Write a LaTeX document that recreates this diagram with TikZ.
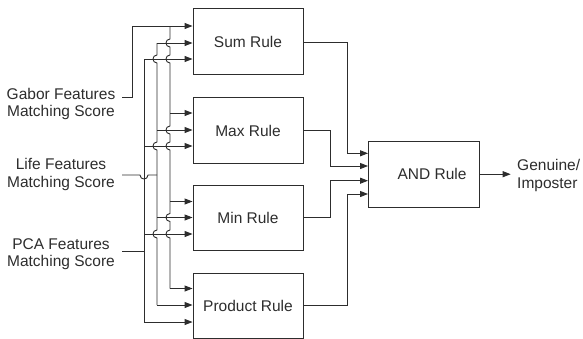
\documentclass[tikz,border=0pt]{standalone}
\usepackage{fontspec}
\setmainfont{Liberation Sans}
\usetikzlibrary{arrows.meta}
\definecolor{lc}{RGB}{45,45,45}
\begin{document}
\begin{tikzpicture}[x=1pt,y=-1pt,
  every node/.style={font=\fontsize{15.5}{17.5}\selectfont, text=lc},
  rulebox/.style={draw=lc, line width=0.9pt, minimum width=110pt, minimum height=65.5pt, inner sep=0pt},
  wire/.style={draw=lc, line width=0.9pt},
  arr/.style={wire, -{Triangle[length=8pt,width=6pt]}},
  lbl/.style={align=center, inner sep=0pt}]
\useasboundingbox (0,0) rectangle (583,338);
% boxes
\node[rulebox] (sum)  at (248,41.5)  {Sum Rule};
\node[rulebox] (max)  at (248,130.5) {Max Rule};
\node[rulebox] (min)  at (248,218)   {Min Rule};
\node[rulebox] (prod) at (248,306)   {Product Rule};
\node[rulebox, minimum width=111pt, minimum height=66pt] (and) at (424,174.2) {\hspace*{16pt}AND Rule};
% input labels
\node[lbl] (gab) at (61,104)   {Gabor Features\\Matching Score};
\node[lbl] (lif) at (61,174.5) {Life Features\\Matching Score};
\node[lbl] (pca) at (61,254)   {PCA Features\\Matching Score};
\node[lbl, align=left, anchor=west] (gen) at (517,175.5) {Genuine/\\Imposter};
% helper coordinates
\coordinate (G) at (170,0);
\coordinate (L) at (157,0);
\coordinate (P) at (144,0);
\coordinate (J) at (132,0);
\coordinate (gin) at (122,97);
\coordinate (lin) at (122,175);
\coordinate (pin) at (122,251);
\coordinate (a1) at (0,26);   \coordinate (b1) at (0,43);    \coordinate (c1) at (0,59);
\coordinate (a2) at (0,113);  \coordinate (b2) at (0,130);   \coordinate (c2) at (0,146);
\coordinate (a3) at (0,201.5);\coordinate (b3) at (0,217.5); \coordinate (c3) at (0,234);
\coordinate (a4) at (0,288.5);\coordinate (b4) at (0,305);   \coordinate (c4) at (0,322);
% Gabor input
\draw[arr] (gin) -| (J|-a1) -- (sum.west|-a1);
% Gabor bus with hops
\draw[wire] (G|-a1) -- (170,39) .. controls (164.67,39) and (164.67,47) .. (170,47)
  -- (170,55) .. controls (164.67,55) and (164.67,63) .. (170,63)
  -- (170,126) .. controls (164.67,126) and (164.67,134) .. (170,134)
  -- (170,142) .. controls (164.67,142) and (164.67,150) .. (170,150)
  -- (170,213.5) .. controls (164.67,213.5) and (164.67,221.5) .. (170,221.5)
  -- (170,230) .. controls (164.67,230) and (164.67,238) .. (170,238)
  -- (G|-a4);
\draw[arr] (G|-a2) -- (max.west|-a2);
\draw[arr] (G|-a3) -- (min.west|-a3);
\draw[arr] (G|-a4) -- (prod.west|-a4);
% Life input and bus
\draw[wire] (lin) -- (140,175) .. controls (140,180.33) and (148,180.33) .. (148,175) -- (L|-lin);
\draw[wire] (L|-b1) -- (157,55) .. controls (151.67,55) and (151.67,63) .. (157,63)
  -- (157,142) .. controls (151.67,142) and (151.67,150) .. (157,150)
  -- (157,230) .. controls (151.67,230) and (151.67,238) .. (157,238)
  -- (L|-b4);
\draw[arr] (L|-b1) -- (sum.west|-b1);
\draw[arr] (L|-b2) -- (max.west|-b2);
\draw[arr] (L|-b3) -- (min.west|-b3);
\draw[arr] (L|-b4) -- (prod.west|-b4);
% PCA input and bus
\draw[wire] (pin) -- (P|-pin);
\draw[wire] (P|-c1) -- (P|-c4);
\draw[arr] (P|-c1) -- (sum.west|-c1);
\draw[arr] (P|-c2) -- (max.west|-c2);
\draw[arr] (P|-c3) -- (min.west|-c3);
\draw[arr] (P|-c4) -- (prod.west|-c4);
% outputs to AND
\coordinate (X1) at (347.3,0);
\coordinate (X2) at (330.7,0);
\coordinate (o1) at (0,42.7);  \coordinate (i1) at (0,153.3);
\coordinate (o2) at (0,130.7); \coordinate (i2) at (0,166);
\coordinate (o3) at (0,217.7); \coordinate (i3) at (0,180.7);
\coordinate (o4) at (0,305.7); \coordinate (i4) at (0,194);
\draw[arr] (sum.east|-o1) -| (X1|-i1) -- (and.west|-i1);
\draw[arr] (max.east|-o2) -| (X2|-i2) -- (and.west|-i2);
\draw[arr] (min.east|-o3) -| (X2|-i3) -- (and.west|-i3);
\draw[arr] (prod.east|-o4) -| (X1|-i4) -- (and.west|-i4);
\coordinate (out) at (510.7,174.2);
\draw[arr] (and.east) -- (out);
\end{tikzpicture}
\end{document}
